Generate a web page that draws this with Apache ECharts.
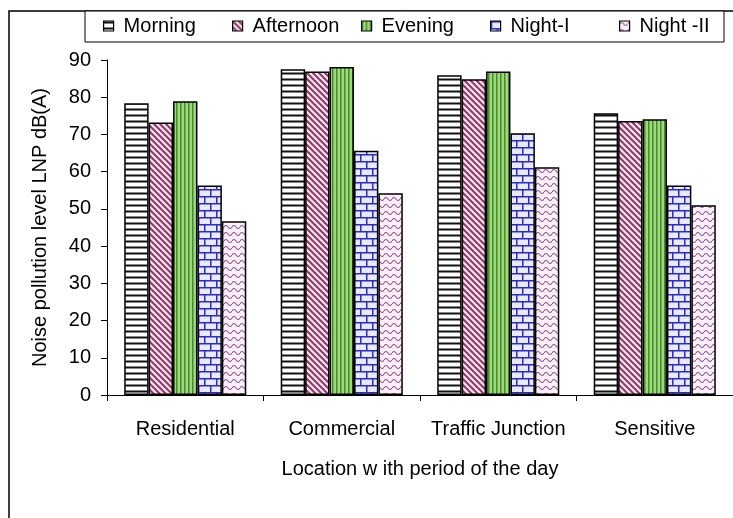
<!DOCTYPE html>
<html>
<head>
<meta charset="utf-8">
<script src="https://cdn.jsdelivr.net/npm/echarts@6/dist/echarts.min.js"></script>
<style>
html, body { margin: 0; padding: 0; background: #fff; }
#main { width: 733px; height: 518px; }
</style>
</head>
<body>
<div id="main"></div>
<script>
// data
var categories = ['Residential', 'Commercial', 'Traffic Junction', 'Sensitive'];
var seriesNames = ['Morning', 'Afternoon', 'Evening', 'Night-I', 'Night -II'];
var morning = [78.4, 87.5, 85.9, 75.7];
var afternoon = [73.2, 86.9, 84.8, 73.6];
var evening = [78.9, 88.1, 86.9, 74.1];
var night1 = [56.3, 65.6, 70.3, 56.3];
var night2 = [46.7, 54.2, 61.2, 51.0];
var yMin = 0, yMax = 90, yStep = 10;

var FONT = '"Liberation Sans", Arial, sans-serif';

var byId = function(id) {
	return document.getElementById(id);
};

// fill patterns (like excel hatch fills)
function makePattern(w, h, draw) {
	var c = document.createElement('canvas');
	c.width = w;
	c.height = h;
	var ctx = c.getContext('2d');
	draw(ctx, w, h);
	return { image: c, repeat: 'repeat' };
}

var patMorning = makePattern(4, 6, function(ctx, w, h) {
	ctx.fillStyle = '#fff';
	ctx.fillRect(0, 0, w, h);
	ctx.fillStyle = '#888';
	ctx.fillRect(0, 0, w, 1);
	ctx.fillStyle = '#111';
	ctx.fillRect(0, 1, w, 1.5);
});

var patAfternoon = makePattern(6, 6, function(ctx, w, h) {
	ctx.fillStyle = '#f7e4ee';
	ctx.fillRect(0, 0, w, h);
	ctx.strokeStyle = '#8e3a68';
	ctx.lineWidth = 2;
	ctx.beginPath();
	ctx.moveTo(-1, -1); ctx.lineTo(w + 1, h + 1);
	ctx.moveTo(-1, h - 1); ctx.lineTo(1, h + 1);
	ctx.moveTo(w - 1, -1); ctx.lineTo(w + 1, 1);
	ctx.stroke();
});

var patEvening = makePattern(4, 4, function(ctx, w, h) {
	ctx.fillStyle = '#a4d67a';
	ctx.fillRect(0, 0, w, h);
	ctx.fillStyle = '#3f8f32';
	ctx.fillRect(0, 0, 1.5, h);
});

var patNight1 = makePattern(12, 14, function(ctx, w, h) {
	ctx.fillStyle = '#e9e9ff';
	ctx.fillRect(0, 0, w, h);
	ctx.fillStyle = '#2b2bc8';
	ctx.fillRect(0, 0, w, 1.5);
	ctx.fillRect(0, 7, w, 1.5);
	ctx.fillRect(0, 0, 1.5, 7);
	ctx.fillRect(6, 7, 1.5, 7);
});

var patNight2 = makePattern(8, 7, function(ctx, w, h) {
	ctx.fillStyle = '#fdeefc';
	ctx.fillRect(0, 0, w, h);
	ctx.strokeStyle = '#8c5a86';
	ctx.lineWidth = 1.2;
	ctx.beginPath();
	ctx.moveTo(0, 3);
	ctx.quadraticCurveTo(2, 0, 4, 3);
	ctx.quadraticCurveTo(6, 6, 8, 3);
	ctx.stroke();
});

var patterns = [patMorning, patAfternoon, patEvening, patNight1, patNight2];
var values = [morning, afternoon, evening, night1, night2];

var series = [];
for (var i = 0; i < seriesNames.length; i++) {
	series.push({
		name: seriesNames[i],
		type: 'bar',
		data: values[i],
		barGap: '0%',
		barCategoryGap: '22%',
		itemStyle: {
			color: patterns[i],
			borderColor: '#000',
			borderWidth: 1.5
		},
		emphasis: { disabled: true }
	});
}

// one legend per item so the spacing is even like in excel
var legends = [];
for (var i = 0; i < seriesNames.length; i++) {
	legends.push({
		data: [seriesNames[i]],
		left: 103 + 129 * i,
		top: 16,
		icon: 'rect',
		itemWidth: 10,
		itemHeight: 10,
		itemGap: 0,
		padding: 0,
		selectedMode: false,
		itemStyle: { borderColor: '#000', borderWidth: 1.2 },
		textStyle: { fontFamily: FONT, fontSize: 20, color: '#000', padding: [0, 0, 0, 5] }
	});
}

var option = {
	animation: false,
	backgroundColor: '#fff',
	graphic: [{
		type: 'polyline',
		shape: { points: [[9, 518], [9, 11], [733, 11]] },
		style: { stroke: '#000', lineWidth: 1.5, fill: null },
		z: -1
	}, {
		type: 'rect',
		shape: { x: 85, y: 11, width: 639, height: 31 },
		style: { stroke: '#000', lineWidth: 1, fill: '#fff' },
		z: -1
	}],
	legend: legends,
	grid: {
		left: 107,
		right: -11,
		top: 60,
		bottom: 123
	},
	xAxis: {
		type: 'category',
		data: categories,
		name: 'Location w ith period of the day',
		nameLocation: 'middle',
		nameGap: 64,
		nameTextStyle: { fontFamily: FONT, fontSize: 20, color: '#000' },
		axisLine: { lineStyle: { color: '#000', width: 1 } },
		axisTick: { show: true, length: 6, lineStyle: { color: '#000' } },
		axisLabel: { fontFamily: FONT, fontSize: 20, color: '#000', margin: 24, interval: 0 }
	},
	yAxis: {
		type: 'value',
		min: yMin,
		max: yMax,
		interval: yStep,
		name: 'Noise pollution level LNP dB(A)',
		nameLocation: 'middle',
		nameGap: 57,
		nameTextStyle: { fontFamily: FONT, fontSize: 20, color: '#000' },
		axisLine: { show: true, lineStyle: { color: '#000', width: 1 } },
		axisTick: { show: true, length: 6, lineStyle: { color: '#000' } },
		splitLine: { show: false },
		axisLabel: { fontFamily: FONT, fontSize: 20, color: '#000', margin: 16 }
	},
	series: series
};

var chart = echarts.init(byId('main'), null, { renderer: 'canvas' });
chart.setOption(option);
</script>
</body>
</html>
